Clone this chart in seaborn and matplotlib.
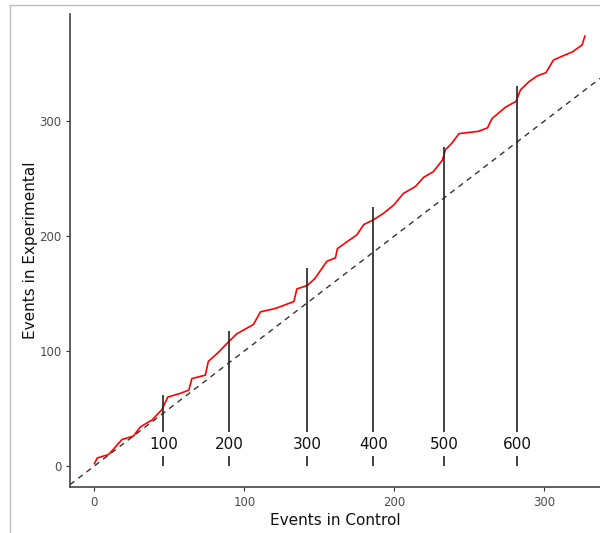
import matplotlib
matplotlib.use("Agg")
import matplotlib.pyplot as plt
from matplotlib.lines import Line2D
import seaborn as sns
import pandas as pd

# Cumulative events (red curve)
control = [0, 2, 9.5, 13, 18.4, 26, 30.7, 38.5, 45, 49, 57, 63, 65, 74, 76, 82, 89.5, 95,
           106, 110.7, 120.7, 133, 135, 142, 147, 155, 160.7, 162, 168.4, 175, 179.6, 186,
           193, 199.6, 206, 214, 219.5, 226, 232, 234, 238.5, 243, 256, 262, 265, 274, 281,
           284, 289.5, 295, 301, 306, 313, 318.5, 325, 327]
experimental = [2, 7, 10, 15, 23, 26, 34, 40, 49, 60, 63, 66, 76, 79, 91, 98, 108, 115,
                123, 134, 137, 143, 154, 157, 163, 178, 181, 189, 195, 201, 210, 214, 220,
                227, 237, 243, 251, 256, 266, 275, 281, 289, 291, 294, 302, 312, 317, 327,
                334, 339, 342, 353, 357, 360, 366, 374]

# Total-event markers
total_labels = ["100", "200", "300", "400", "500", "600"]
marker_control = [46, 90, 142, 186, 233, 282]
marker_top = [62, 117, 172, 225, 277, 330]
marker_bottom = 30
label_y = 19
tick_low, tick_high = 0, 9

x_ticks = [0, 100, 200, 300]
y_ticks = [0, 100, 200, 300]

sns.set_theme(style="white")
plt.rcParams['font.family'] = ['DejaVu Sans']

fig = plt.figure(figsize=(6.0, 5.33), dpi=100)
ax = fig.add_axes([70/600, 1 - 487.3/533, 530/600, (487.3 - 14)/533])

df = pd.DataFrame({"control": control, "experimental": experimental})

xlim = (-16.2, 337)
ylim = (-18.5, 393)

# diagonal reference line
ax.plot(xlim, xlim, linestyle=(0, (4, 3.5)), color="#333333", lw=1.0, zorder=2)

sns.lineplot(data=df, x="control", y="experimental", color="red", lw=1.2,
             estimator=None, sort=False, ax=ax, zorder=3)

for xc, top, lab in zip(marker_control, marker_top, total_labels):
    ax.vlines(xc, marker_bottom, top, color="#222222", lw=1.2, zorder=4)
    ax.vlines(xc, tick_low, tick_high, color="#222222", lw=1.2, zorder=4)
    ax.text(xc, label_y, lab, ha="center", va="center", fontsize=11, color="#111111")

ax.set_xlim(*xlim)
ax.set_ylim(*ylim)
ax.set_xticks(x_ticks)
ax.set_yticks(y_ticks)
ax.tick_params(axis="both", which="both", length=3, width=0.8, color="#333333",
               labelsize=8.5, labelcolor="#4d4d4d", direction="out", pad=3,
               bottom=True, left=True)
for side in ["top", "right"]:
    ax.spines[side].set_visible(False)
for side in ["left", "bottom"]:
    ax.spines[side].set_color("#444444")
    ax.spines[side].set_linewidth(1.2)

ax.set_xlabel("Events in Control", fontsize=11, color="#111111", labelpad=3)
ax.set_ylabel("Events in Experimental", fontsize=11, color="#111111", labelpad=1)

# light screenshot frame
fig.add_artist(Line2D([9.5/600, 9.5/600], [0, 1 - 5.3/533], transform=fig.transFigure,
                      color="#bdbdbd", lw=1.0))
fig.add_artist(Line2D([9.5/600, 1], [1 - 5.3/533, 1 - 5.3/533], transform=fig.transFigure,
                      color="#bdbdbd", lw=1.0))

fig.savefig("out.png", dpi=100)
